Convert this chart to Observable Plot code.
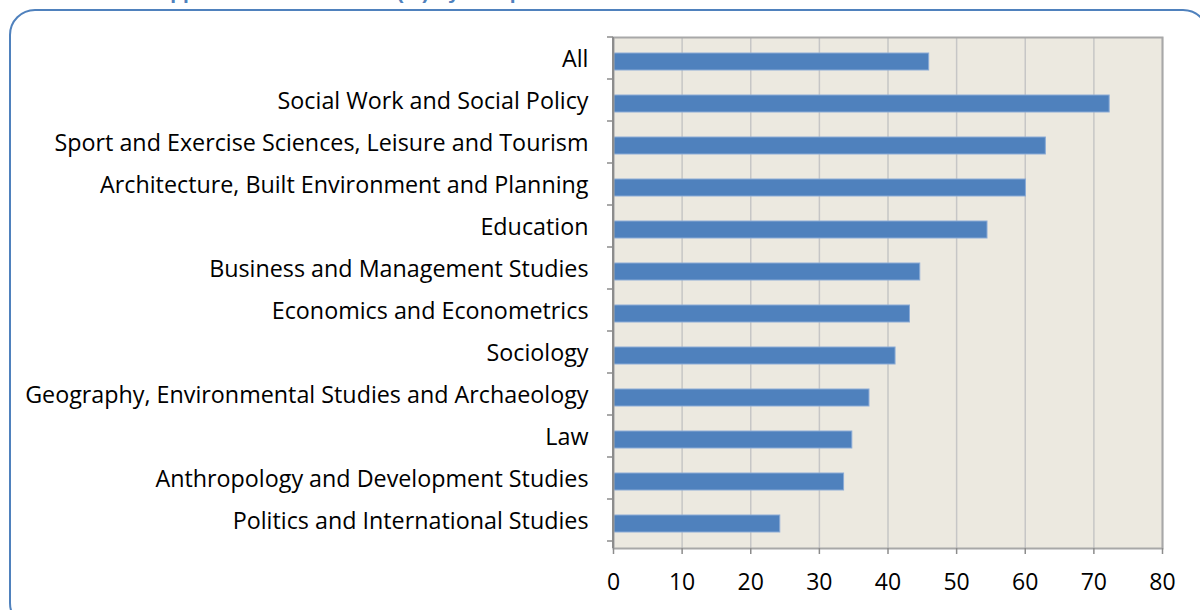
<!DOCTYPE html>
<html>
<head>
<meta charset="utf-8">
<script src="https://cdn.jsdelivr.net/npm/d3@7"></script>
<script src="https://cdn.jsdelivr.net/npm/@observablehq/plot@0.6"></script>
<style>
  html, body { margin: 0; padding: 0; background: #fff; overflow: hidden; }
  #wrap { position: relative; width: 1200px; height: 610px; overflow: hidden; }
  #title { position: absolute; left: 155px; top: -19px; font: bold 21px "Liberation Sans", sans-serif; line-height: 22px; color: #4F81BD; white-space: nowrap; }
  #box { position: absolute; left: 9px; top: 9px; width: 1200px; height: 620px; border: 2.5px solid #4F81BD; border-radius: 26px; box-sizing: border-box; pointer-events: none; }
  #chart { position: absolute; left: 0; top: 0; }
</style>
</head>
<body>
<div id="wrap">
  <div id="title">Approval success rates (%) by sub-panel</div>
  <div id="box"></div>
  <div id="chart"></div>
</div>
<script>
const categories = [
  "All",
  "Social Work and Social Policy",
  "Sport and Exercise Sciences, Leisure and Tourism",
  "Architecture, Built Environment and Planning",
  "Education",
  "Business and Management Studies",
  "Economics and Econometrics",
  "Sociology",
  "Geography, Environmental Studies and Archaeology",
  "Law",
  "Anthropology and Development Studies",
  "Politics and International Studies"
];
const values = [46.0, 72.3, 63.0, 60.1, 54.5, 44.7, 43.2, 41.1, 37.3, 34.8, 33.6, 24.3];
const xTicks = [0, 10, 20, 30, 40, 50, 60, 70, 80];

const data = categories.map((name, i) => ({name, value: values[i]}));

const plot = Plot.plot({
  width: 1200,
  height: 610,
  marginLeft: 613,
  marginRight: 38,
  marginTop: 37,
  marginBottom: 62,
  style: {fontFamily: "'Open Sans', sans-serif", fontSize: "23px", color: "#000", background: "transparent", overflow: "visible"},
  x: {domain: [0, 80], ticks: xTicks, label: null},
  y: {domain: categories, paddingInner: 0.6, paddingOuter: 0.3, label: null},
  marks: [
    Plot.frame({fill: "#ECE9E0", stroke: null}),
    Plot.gridX(xTicks, {stroke: "#C6C6C6", strokeOpacity: 1, strokeWidth: 1.5}),
    Plot.barX(data, {x: "value", y: "name", fill: "#4F81BD", stroke: "#8BABD6", strokeWidth: 1}),
    Plot.frame({stroke: "#A8A8A8", strokeWidth: 2}),
    Plot.axisX({ticks: xTicks, tickSize: 6, tickPadding: 19, stroke: "#8C8C8C", strokeWidth: 1.5, fill: "#000", fontSize: "23px", label: null}),
    Plot.axisY({tickSize: 0, tickPadding: 25, dy: -2, fill: "#000", fontSize: "23.3px", label: null})
  ]
});
document.getElementById("chart").appendChild(plot);

// category-boundary tick marks on the y axis, derived from the band scale
const ys = plot.scale("y");
const xs = plot.scale("x");
const x0 = xs.apply(0);
const step = ys.step;
const r0 = Math.min(...ys.range);
const svg = d3.select(plot);
const g = svg.append("g").attr("stroke", "#8C8C8C").attr("stroke-width", 1.5);
for (let i = 0; i <= categories.length; i++) {
  const y = r0 + i * step;
  g.append("line").attr("x1", x0 - 6).attr("x2", x0).attr("y1", y).attr("y2", y);
}
svg.append("line").attr("x1", x0).attr("x2", x0)
  .attr("y1", r0).attr("y2", Math.max(...ys.range))
  .attr("stroke", "#8C8C8C").attr("stroke-width", 2);
</script>
</body>
</html>
